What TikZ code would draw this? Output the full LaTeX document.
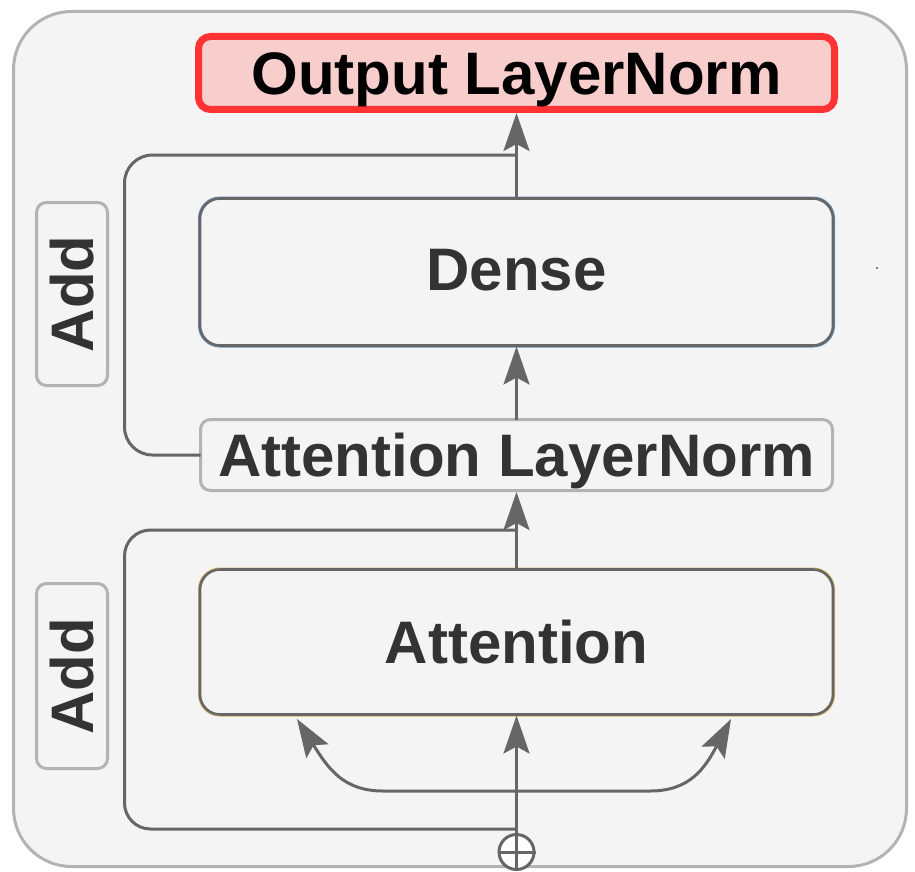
\documentclass[tikz,border=0pt]{standalone}
\usepackage{fontspec}
\setmainfont{Liberation Sans}
\usetikzlibrary{arrows.meta}
\definecolor{framegray}{HTML}{B3B3B3}
\definecolor{bgfill}{HTML}{F4F4F4}
\definecolor{linegray}{HTML}{666666}
\definecolor{txtgray}{HTML}{333333}
\definecolor{outred}{HTML}{FF3333}
\definecolor{outfill}{HTML}{F8CECC}
\definecolor{blueedge}{HTML}{6C8EBF}
\definecolor{yellowedge}{HTML}{D6B656}
\tikzset{
  bigtext/.style={font=\fontsize{60}{66}\selectfont\bfseries, text=txtgray, inner sep=0pt, outer sep=0pt,
                  text height=43pt, text depth=0pt},
  lightbox/.style={draw=framegray, line width=3pt, rounded corners=10pt},
  darkbox/.style={draw=linegray, line width=2.6pt, rounded corners=20pt},
  conn/.style={draw=linegray, line width=3pt},
  arr/.style={conn, -{Stealth[length=38pt,width=26pt,inset=7pt]}},
}
\begin{document}
\begin{tikzpicture}[x=1pt,y=-1pt]
\useasboundingbox (0,0) rectangle (915,872);
% outer frame
\draw[draw=framegray, fill=bgfill, line width=3pt, rounded corners=58pt] (13.5,11.5) rectangle (906.5,866.5);

% nodes
\node[bigtext, text=black, draw=outred, fill=outfill, line width=7pt, rounded corners=12pt,
      minimum width=636pt, minimum height=73pt] (out) at (516.5,73) {Output LayerNorm};
\draw[blueedge, line width=1pt, rounded corners=21.3pt] ([shift={(-1.5,1.5)}]516.5-316.5,272+73.5) rectangle ([shift={(1.5,-1.5)}]516.5+316.5,272-73.5);
\node[bigtext, darkbox, text depth=7pt, minimum width=633pt, minimum height=147pt] (dense) at (516.5,272) {Dense};
\node[bigtext, lightbox, minimum width=632pt, minimum height=71pt] (aln) at (516.5,455) {Attention LayerNorm};
\draw[yellowedge, line width=1pt, rounded corners=21.3pt] ([shift={(-1.5,1.5)}]516.5-316.5,642+72.5) rectangle ([shift={(1.5,-1.5)}]516.5+316.5,642-72.5);
\node[bigtext, darkbox, minimum width=633pt, minimum height=145pt] (att) at (516.5,642) {Attention};
\node[bigtext, lightbox, rotate=90, minimum width=183pt, minimum height=71pt] (add1) at (72,294) {Add};
\node[bigtext, lightbox, rotate=90, minimum width=185pt, minimum height=71pt] (add2) at (72,676) {Add};
\node[circle, draw=linegray, fill=white, line width=3pt, minimum size=35pt, inner sep=0pt] (circ) at (516.5,852) {};
\draw[conn] (circ.north) -- (circ.south);
\draw[conn] (circ.west) -- (circ.east);

% junction coordinates
\coordinate (j1) at (516.5,829);
\coordinate (j2) at (516.5,530);
\coordinate (j3) at (516.5,155);
\coordinate (c0) at (516.5,791);
\coordinate (tl) at (297,719);
\coordinate (tr) at (731,719);

% main flow
\draw[arr] (circ.north) -- ([yshift=-1pt]att.south);
\draw[arr] (att.north) -- ([yshift=-1.5pt]aln.south);
\draw[arr] (aln.north) -- ([yshift=-1pt]dense.south);
\draw[arr] (dense.north) -- ([yshift=-3.5pt]out.south);

% skip connections
\draw[conn, rounded corners=26pt] (j1) -- (124.5,829) -- (124.5,530) -- (j2);
\draw[conn, rounded corners=28pt] (aln.west) -- (124.5,455) -- (124.5,155) -- (j3);

% fan-out to attention
\draw[arr] (c0) -- (383,791) .. controls (343,791) and (328,768) .. (tl);
\draw[arr] (c0) -- (650,791) .. controls (690,791) and (705,768) .. (tr);

% tiny dot
\fill[black] (877,268) circle (0.8pt);
\end{tikzpicture}
\end{document}
